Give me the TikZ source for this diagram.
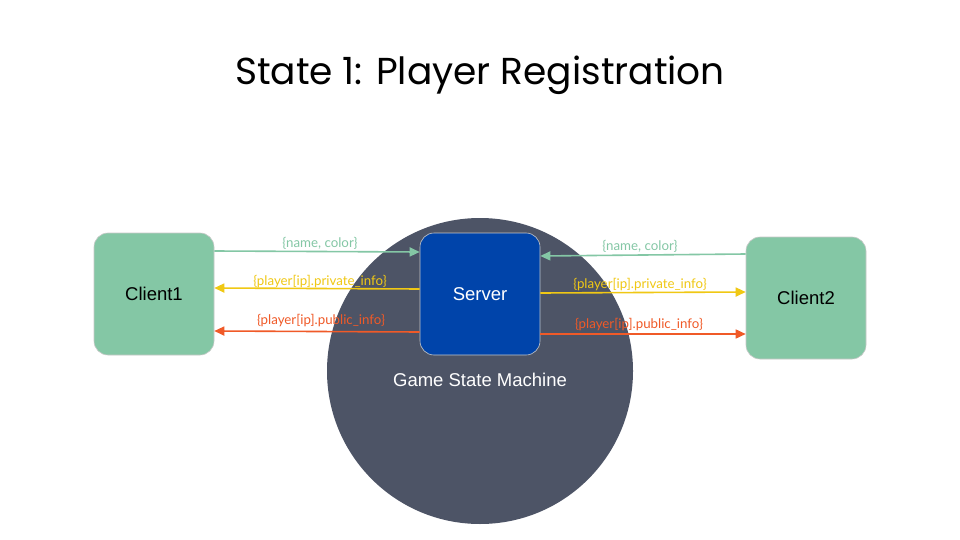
\documentclass[tikz,border=0pt]{standalone}
\usepackage{fontspec}
\setmainfont{Liberation Sans}
\newfontfamily\titlefont{Poppins}
\newfontfamily\labelfont{Lato}
\usetikzlibrary{arrows.meta}
\definecolor{cgreen}{RGB}{132,199,165}
\definecolor{cserver}{RGB}{0,68,170}
\definecolor{cgsm}{RGB}{77,84,102}
\definecolor{cyellow}{RGB}{240,200,20}
\definecolor{corange}{RGB}{240,90,40}
\definecolor{cborder}{RGB}{200,200,200}
\begin{document}
\begin{tikzpicture}[x=1pt,y=-1pt,
  box/.style={draw=cborder,line width=0.6pt,rounded corners=14pt,minimum width=120pt,minimum height=122pt,inner sep=0pt,font=\fontsize{18.5}{21}\selectfont},
  lbl/.style={font=\labelfont\fontsize{13.3}{15}\selectfont,inner sep=0pt},
  conn/.style={line width=1.6pt,-{Triangle[length=10pt,width=9pt]}}]
\useasboundingbox (0,0) rectangle (960,540);
\fill[white] (0,0) rectangle (960,540);
\node[font=\titlefont\fontsize{37.5}{42}\selectfont] (title) at (480,75) {State 1: Player Registration};
\node[circle,fill=cgsm,minimum size=306pt,inner sep=0pt] (gsm) at (480,371) {};
\node[text=white,font=\fontsize{18.5}{21}\selectfont] (gsmlabel) at (480,380) {Game State Machine};
\node[box,fill=cgreen] (c1) at (154,294) {Client1};
\node[box,fill=cserver,text=white] (srv) at (480,294) {Server};
\node[box,fill=cgreen] (c2) at (806,298) {Client2};
% left side
\draw[conn,cgreen] (c1.east |- 0,251) -- (srv.west |- 0,252);
\draw[conn,cyellow] (srv.west |- 0,289) -- (c1.east |- 0,288);
\draw[conn,corange] (srv.west |- 0,332) -- (c1.east |- 0,331);
% right side
\draw[conn,cgreen] (c2.west |- 0,254) -- (srv.east |- 0,256);
\draw[conn,cyellow] (srv.east |- 0,293) -- (c2.west |- 0,292);
\draw[conn,corange] (srv.east |- 0,334) -- (c2.west |- 0,334);
% labels
\node[lbl,text=cgreen] (l1) at (320,243) {\{name, color\}};
\node[lbl,text=cyellow] (l2) at (320,282) {\{player[ip].private\_info\}};
\node[lbl,text=corange] (l3) at (321,321) {\{player[ip].public\_info\}};
\node[lbl,text=cgreen] (r1) at (640,246) {\{name, color\}};
\node[lbl,text=cyellow] (r2) at (640,285) {\{player[ip].private\_info\}};
\node[lbl,text=corange] (r3) at (639,325) {\{player[ip].public\_info\}};
\end{tikzpicture}
\end{document}
